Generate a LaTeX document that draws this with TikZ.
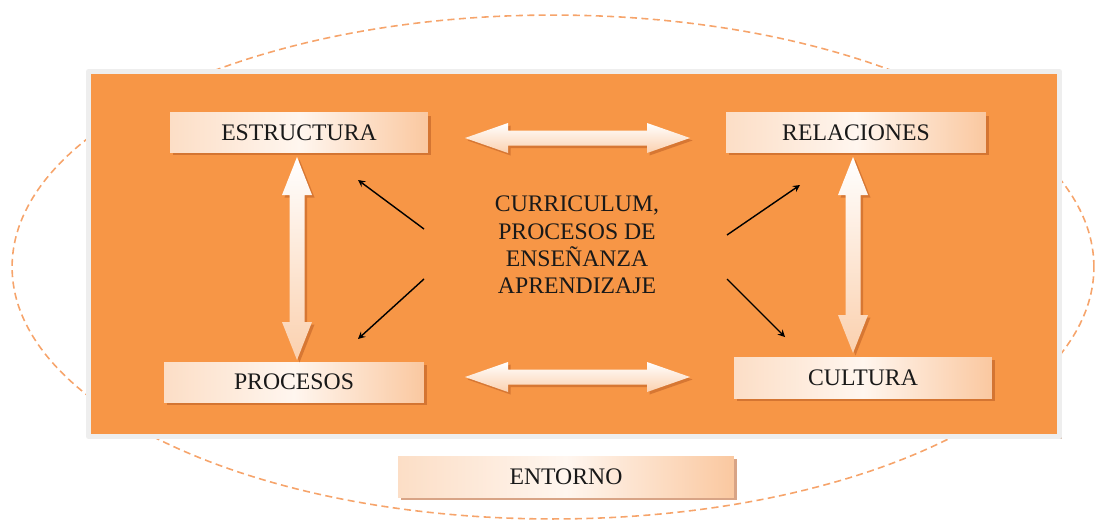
\documentclass[tikz,border=0pt]{standalone}
\usepackage{fontspec}
\setmainfont{Liberation Serif}
\usetikzlibrary{positioning,shadows}
\definecolor{naranja}{HTML}{F79646}
\definecolor{durazno}{HTML}{FAC8A0}
\definecolor{claro}{HTML}{FFF6EF}
\definecolor{sombra}{HTML}{B85A22}
\definecolor{borde}{HTML}{EEEEEE}
\definecolor{elipse}{HTML}{F6A46B}
\tikzset{
  caja/.style={inner sep=0pt,minimum height=0.8cm,
    left color=durazno!60!white,right color=durazno,middle color=claro,
    drop shadow={shadow xshift=0.06cm,shadow yshift=-0.06cm,fill=sombra,opacity=0.55}},
  flecha/.style={top color=white,bottom color=durazno!85!white,
    drop shadow={shadow xshift=0.05cm,shadow yshift=-0.05cm,fill=sombra,opacity=0.5}},
  texto/.style={font=\fontsize{13.5}{15.6}\selectfont,text=black!90}
}
\begin{document}
\begin{tikzpicture}[x=0.02cm,y=-0.02cm,>=stealth,line join=round]
            \useasboundingbox (0,0) rectangle (1101,521);
            % entorno
            \draw[elipse,dashed,line width=0.9pt,dash pattern=on 4pt off 2.5pt] (553,267) ellipse [x radius=10.82cm,y radius=5.04cm];
            \draw[borde,line width=0.1cm,fill=naranja,
              drop shadow={shadow xshift=0.05cm,shadow yshift=-0.05cm,fill=sombra!60!gray,opacity=0.4}] (88.5,71.5) rectangle (1059.5,436.5);
            % cajas
            \node[caja,texto,minimum width=5.16cm] (estructura) at (299,132.5) {ESTRUCTURA};
            \node[caja,texto,minimum width=5.2cm] (relaciones) at (856,132.5) {RELACIONES};
            \node[caja,texto,minimum width=5.2cm] (procesos) at (294,382) {PROCESOS};
            \node[caja,texto,minimum width=5.16cm,minimum height=0.82cm] (cultura) at (863,377.5) {CULTURA};
            \node[caja,texto,minimum width=6.72cm,minimum height=0.82cm] (entorno) at (566,476.5) {ENTORNO};
            \node[texto,align=center] (centro) at (577,245) {CURRICULUM,\\PROCESOS DE\\ENSEÑANZA\\APRENDIZAJE};
            % flechas dobles
            \foreach \y in {138,377}
            \path[flecha] (465,\y)--(508,\y-15)--(508,\y-7.5)--(647,\y-7.5)--(647,\y-15)--(690,\y)
              --(647,\y+15)--(647,\y+7.5)--(508,\y+7.5)--(508,\y+15)--cycle;
            \foreach \x/\a/\b in {297/157/360,853/157/353}
            \path[flecha] (\x,\a)--(\x+15,\a+38)--(\x+7.5,\a+38)--(\x+7.5,\b-38)--(\x+15,\b-38)--(\x,\b)
              --(\x-15,\b-38)--(\x-7.5,\b-38)--(\x-7.5,\a+38)--(\x-15,\a+38)--cycle;
            % flechas del centro
            \coordinate (a1) at (424,229);
            \coordinate (b1) at (358,180);
            \coordinate (a2) at (424,279);
            \coordinate (b2) at (358,339);
            \coordinate (a3) at (727,235);
            \coordinate (b3) at (800,185);
            \coordinate (a4) at (727,279);
            \coordinate (b4) at (785,337);
            \foreach \i in {1,2,3,4}
            \draw[->,line width=0.8pt] (a\i)--(b\i);
\end{tikzpicture}
\end{document}
